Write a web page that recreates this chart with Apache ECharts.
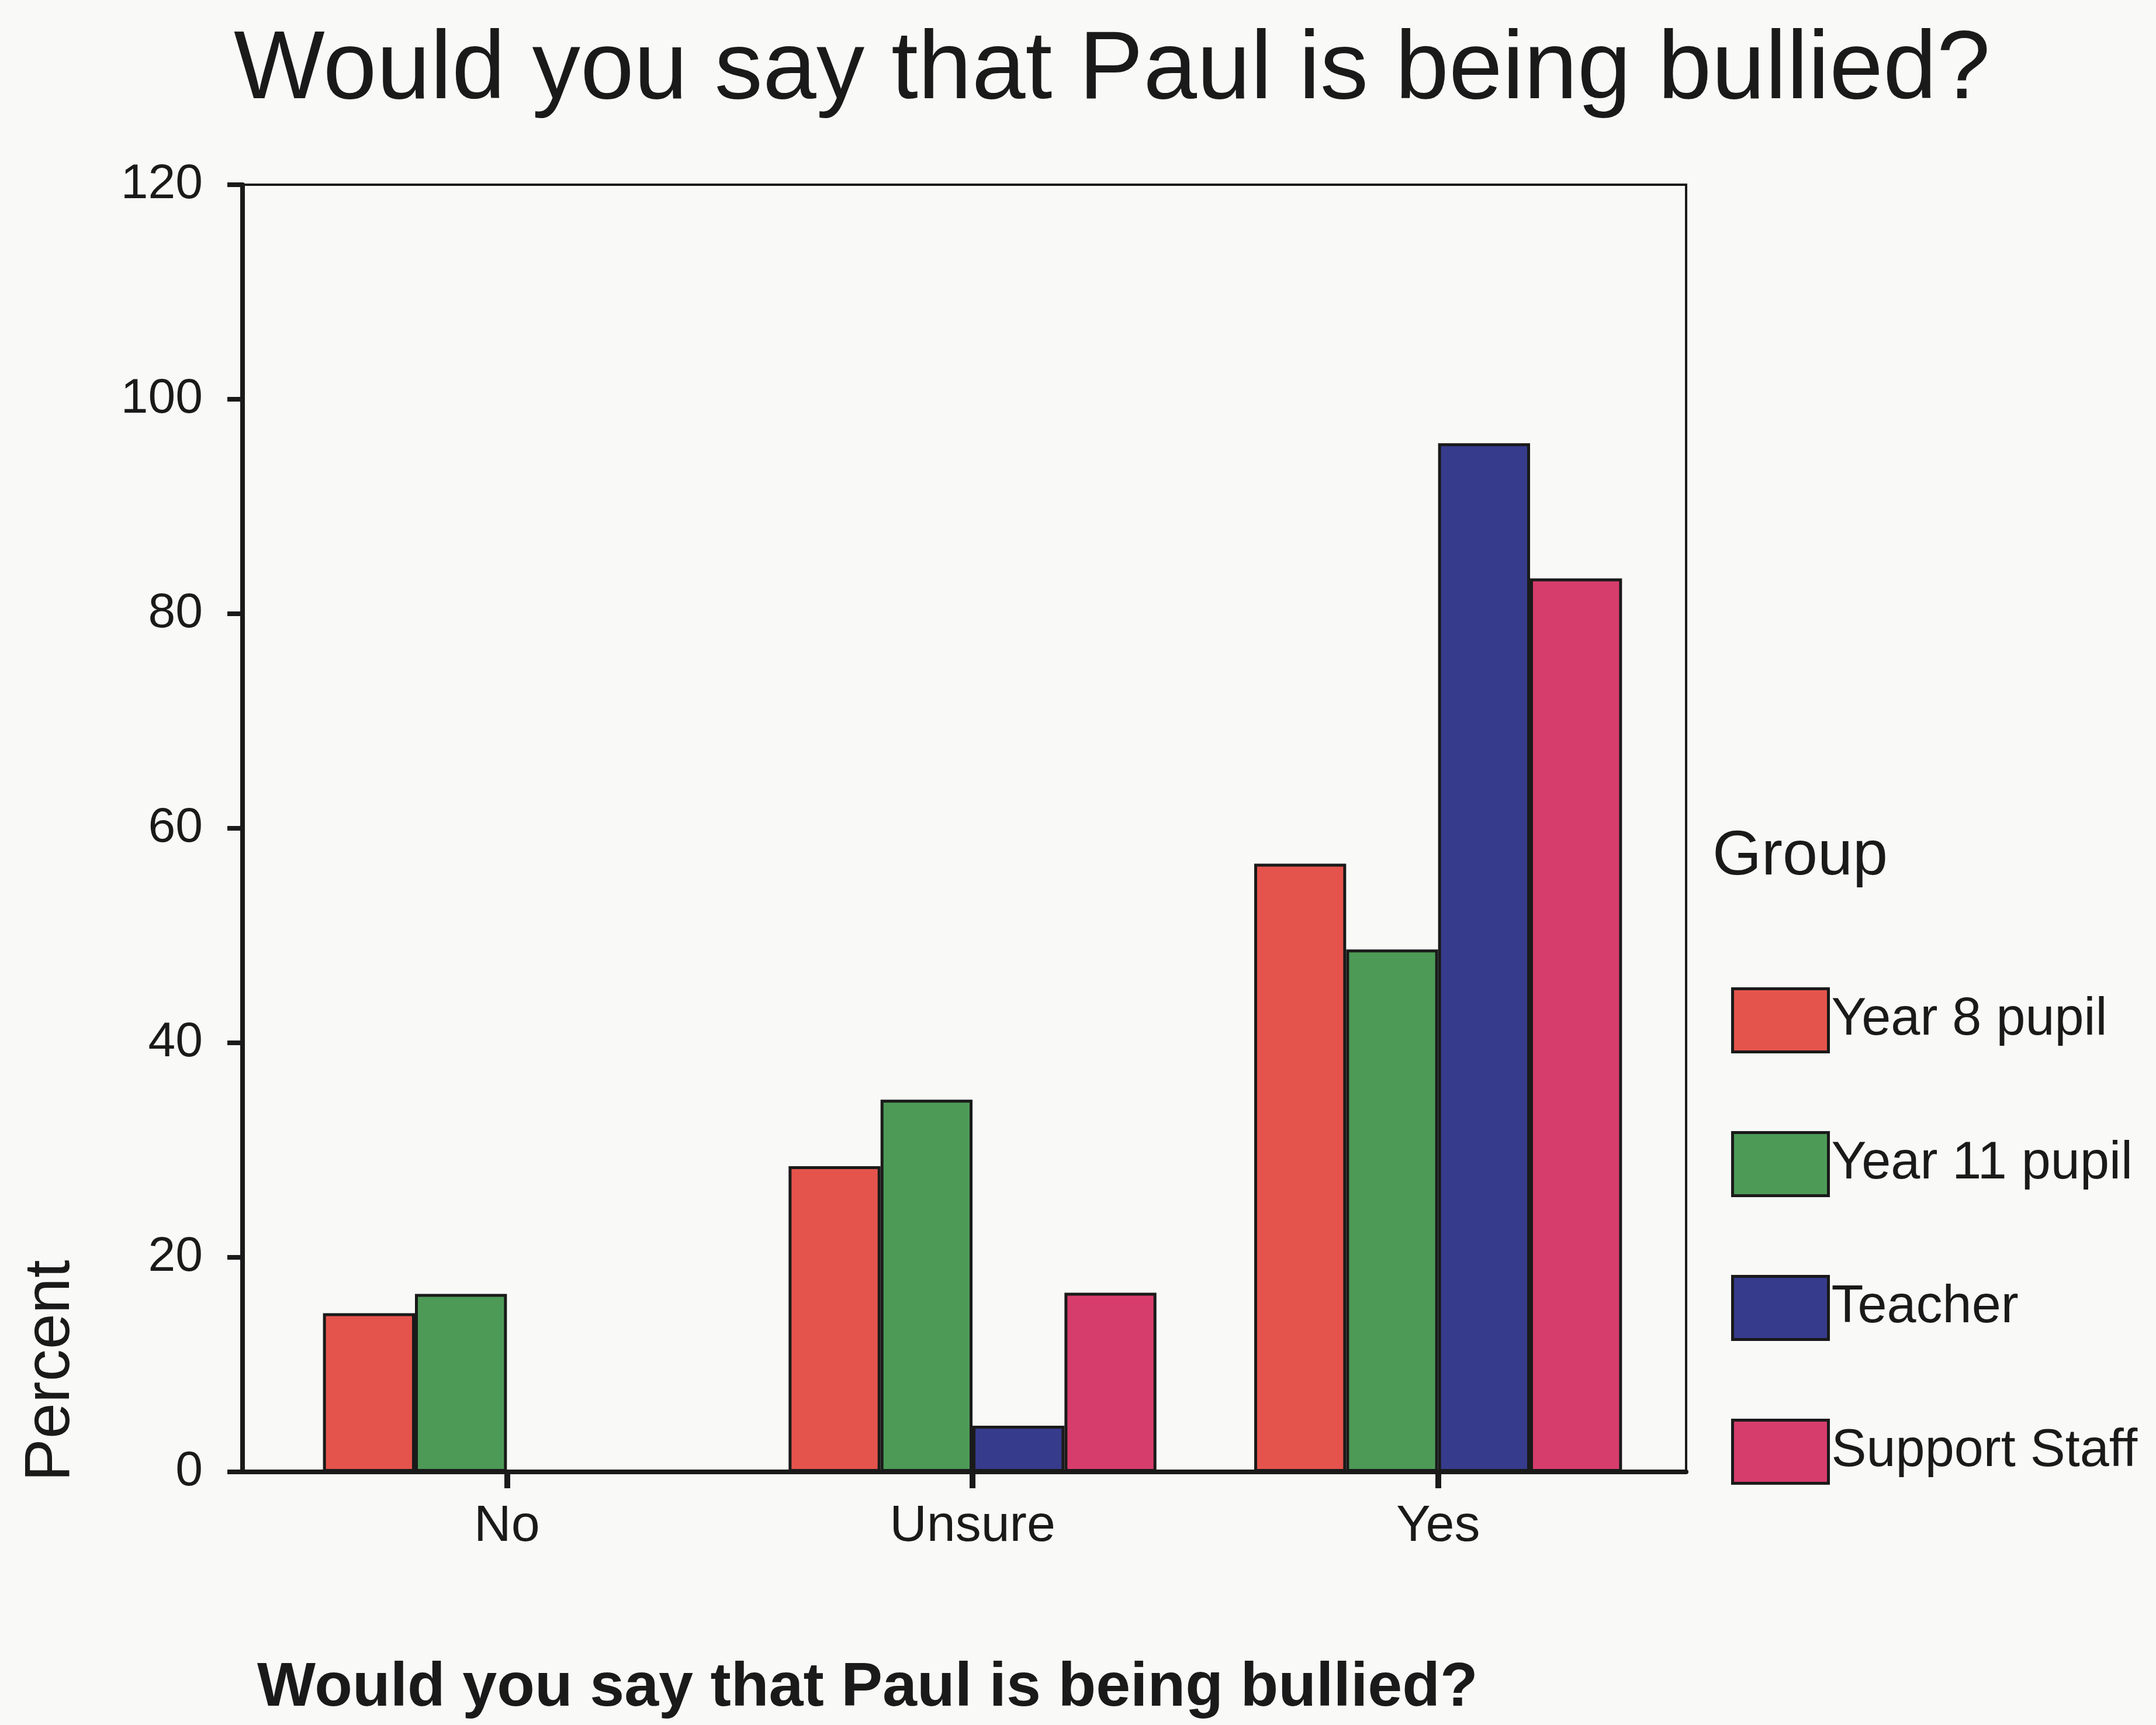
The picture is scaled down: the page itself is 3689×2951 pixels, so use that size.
<!DOCTYPE html>
<html>
<head>
<meta charset="utf-8">
<script src="https://cdn.jsdelivr.net/npm/echarts@6/dist/echarts.min.js"></script>
<style>
  html, body { margin: 0; padding: 0; background: #f9f9f7; }
  #chart { width: 3689px; height: 2951px; }
</style>
</head>
<body>
<div id="chart"></div>
<script>
// answers on the x axis
const answers = ['No', 'Unsure', 'Yes'];
// groups (legend)
const groups = ['Year 8 pupil', 'Year 11 pupil', 'Teacher', 'Support Staff'];
// percent per answer, one array per group
const year8 = [14.8, 28.5, 56.7];
const year11 = [16.6, 34.7, 48.7];
const teacher = [0, 4.3, 95.9];
const supportStaff = [0, 16.7, 83.3];
const yTicks = [0, 20, 40, 60, 80, 100, 120];

const colors = ['#e5544c', '#4d9a57', '#363b8c', '#d73d6c'];
const FONT = "'Liberation Sans', Arial, sans-serif";
const INK = '#1a1a1a';

const groupValues = [year8, year11, teacher, supportStaff];

let chart = echarts.init(document.getElementById('chart'));

let option = {
  backgroundColor: '#f9f9f7',
  animation: false,
  textStyle: { fontFamily: FONT, color: INK },
  title: [{
    text: 'Would you say that Paul is being bullied?',
    left: 400,
    top: 40,
    padding: 0,
    textStyle: { fontFamily: FONT, fontSize: 165, fontWeight: 'normal', color: INK }
  }, {
    text: 'Would you say that Paul is being bullied?',
    left: 440,
    top: 2836,
    padding: 0,
    textStyle: { fontFamily: FONT, fontSize: 106, fontWeight: 'bold', color: INK }
  }, {
    text: 'Group',
    left: 2930,
    top: 1412,
    padding: 0,
    textStyle: { fontFamily: FONT, fontSize: 108, fontWeight: 'normal', color: INK }
  }],
  legend: {
    orient: 'vertical',
    left: 2962,
    top: 1689,
    padding: 0,
    itemWidth: 164,
    itemHeight: 108,
    itemGap: 133,
    icon: 'rect',
    itemStyle: { borderColor: INK, borderWidth: 5 },
    textStyle: { fontFamily: FONT, fontSize: 90, color: INK, padding: [0, 0, 0, 0] },
    data: groups
  },
  graphic: [{
    type: 'text',
    x: 88,
    y: 2345,
    rotation: Math.PI / 2,
    style: {
      text: 'Percent',
      fontFamily: FONT,
      fontSize: 110,
      fill: INK,
      align: 'center',
      verticalAlign: 'middle'
    }
  }],
  grid: [
    // bars
    { left: 469, top: 316, width: 2390, height: 2202 },
    // frame around the plot
    { left: 415, top: 316, width: 2470, height: 2202, show: true,
      borderColor: INK, borderWidth: 4, backgroundColor: 'transparent' }
  ],
  xAxis: [{
    type: 'category',
    gridIndex: 0,
    data: answers,
    axisLine: { show: false },
    axisTick: { show: true, alignWithLabel: true, length: 28, lineStyle: { color: INK, width: 10 } },
    axisLabel: { fontFamily: FONT, fontSize: 88, color: INK, margin: 50 },
    splitLine: { show: false }
  }, {
    type: 'value',
    gridIndex: 1,
    min: 0,
    max: 1,
    axisLine: { show: true, onZero: false, lineStyle: { color: INK, width: 8 } },
    axisTick: { show: false },
    axisLabel: { show: false },
    splitLine: { show: false }
  }],
  yAxis: [{
    type: 'value',
    gridIndex: 0,
    min: 0,
    max: 120,
    interval: 20,
    show: false
  }, {
    type: 'value',
    gridIndex: 1,
    min: yTicks[0],
    max: yTicks[yTicks.length - 1],
    interval: 20,
    axisLine: { show: true, lineStyle: { color: INK, width: 8 } },
    axisTick: { show: true, inside: false, length: 26, lineStyle: { color: INK, width: 8 } },
    axisLabel: { fontFamily: FONT, fontSize: 84, color: INK, margin: 68 },
    splitLine: { show: false }
  }],
  series: groups.map(function (name, i) {
    return {
      name: name,
      type: 'bar',
      xAxisIndex: 0,
      yAxisIndex: 0,
      barGap: '0%',
      barCategoryGap: '21%',
      itemStyle: { color: colors[i], borderColor: INK, borderWidth: 5 },
      data: groupValues[i]
    };
  })
};

chart.setOption(option);
</script>
</body>
</html>
